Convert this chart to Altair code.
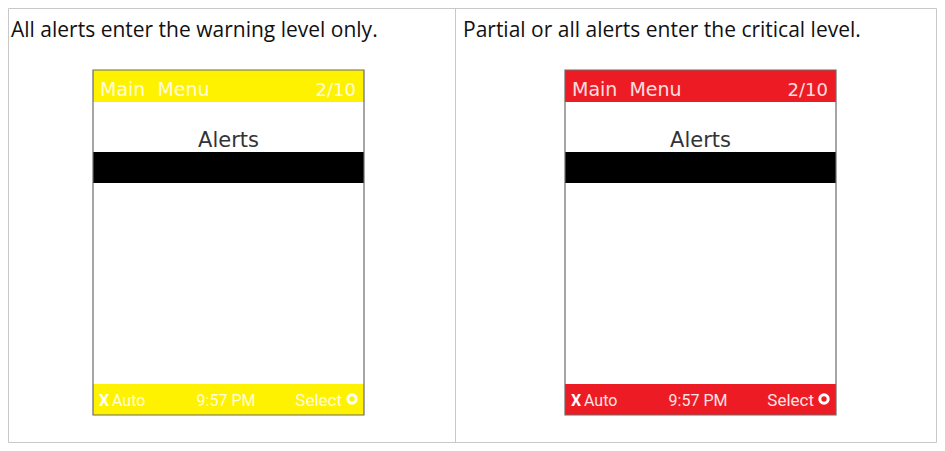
import altair as alt
import pandas as pd

# ---- content ----
panel_titles = ["All alerts enter the warning level only.",
                "Partial or all alerts enter the critical level."]
bar_colors = ["#FFF200", "#ED1C24"]
header_left = ["Main\u00a0\u00a0Menu", "Main\u00a0\u00a0Menu"]
header_right = ["2/10", "2/10"]
menu_items = ["Alerts", "Alerts"]
footer_x = ["X", "X"]
footer_left = ["Auto", "Auto"]
footer_mid = ["9:57 PM", "9:57 PM"]
footer_right = ["Select", "Select"]

# ---- layout (page pixel coordinates) ----
W, H = 929, 435
ORIGIN = 8
panel_left = [3, 455]
screen_left = [93, 565]
SCREEN_W = 271
SCREEN_TOP, SCREEN_BOTTOM = 70, 415
HEADER_BOTTOM = 102
SEL_TOP, SEL_BOTTOM = 152, 183
FOOTER_TOP = 384

xs = alt.Scale(domain=[ORIGIN, ORIGIN + W], nice=False, zero=False)
ys = alt.Scale(domain=[ORIGIN, ORIGIN + H], nice=False, zero=False, reverse=True)

rect_rows = []
for i, x0 in enumerate(screen_left):
    rect_rows.append(dict(x=x0, x2=x0 + SCREEN_W, y=SCREEN_TOP, y2=SCREEN_BOTTOM, fill="#FFFFFF"))
    rect_rows.append(dict(x=x0, x2=x0 + SCREEN_W, y=SCREEN_TOP, y2=HEADER_BOTTOM, fill=bar_colors[i]))
    rect_rows.append(dict(x=x0, x2=x0 + SCREEN_W, y=SEL_TOP, y2=SEL_BOTTOM, fill="#000000"))
    rect_rows.append(dict(x=x0, x2=x0 + SCREEN_W, y=FOOTER_TOP, y2=SCREEN_BOTTOM, fill=bar_colors[i]))
rects = pd.DataFrame(rect_rows)

X = lambda f="x": alt.X(f"{f}:Q", scale=xs, axis=None)
Y = lambda f="y": alt.Y(f"{f}:Q", scale=ys, axis=None)

fill_layer = alt.Chart(rects).mark_rect().encode(
    x=X(), x2="x2:Q", y=Y(), y2="y2:Q",
    fill=alt.Color("fill:N", scale=None),
)

outline = pd.DataFrame(dict(x=screen_left, x2=[s + SCREEN_W for s in screen_left],
                            y=[SCREEN_TOP] * 2, y2=[SCREEN_BOTTOM] * 2))
outline_layer = alt.Chart(outline).mark_rect(
    fillOpacity=0, stroke="#6a6a6a", strokeWidth=1.2
).encode(x=X(), x2="x2:Q", y=Y(), y2="y2:Q")

frame = pd.DataFrame(dict(x=[ORIGIN + 0.5], x2=[ORIGIN + W - 0.5],
                          y=[ORIGIN + 0.5], y2=[ORIGIN + H - 0.5]))
frame_layer = alt.Chart(frame).mark_rect(
    fillOpacity=0, stroke="#c8c8c8", strokeWidth=1
).encode(x=X(), x2="x2:Q", y=Y(), y2="y2:Q")

divider = pd.DataFrame(dict(x=[455.5], y=[ORIGIN], y2=[ORIGIN + H]))
divider_layer = alt.Chart(divider).mark_rule(color="#c8c8c8", strokeWidth=1).encode(
    x=X(), y=Y(), y2="y2:Q")


def text_layer(texts, xpos, ypos, **props):
    df = pd.DataFrame(dict(t=texts, x=xpos, y=ypos))
    return alt.Chart(df).mark_text(baseline="alphabetic", **props).encode(
        x=X(), y=Y(), text="t:N")


titles = text_layer(panel_titles, [p + 8 for p in panel_left], [37] * 2,
                    align="left", font="Open Sans", fontSize=21, color="#111111")
hdr_l = text_layer(header_left, [s + 7 for s in screen_left], [96] * 2,
                   align="left", font="DejaVu Sans", fontSize=19, color="#FFFFFF", opacity=0.85)
hdr_r = text_layer(header_right, [s + 263 for s in screen_left], [96] * 2,
                   align="right", font="DejaVu Sans", fontSize=18, color="#FFFFFF", opacity=0.85)
item = text_layer(menu_items, [s + 135.5 for s in screen_left], [147] * 2,
                  align="center", font="DejaVu Sans", fontSize=21, color="#333333")
ft_x = text_layer(footer_x, [s + 6 for s in screen_left], [406] * 2,
                  align="left", font="Roboto", fontSize=16, fontWeight="bold", color="#FFFFFF")
ft_l = text_layer(footer_left, [s + 19 for s in screen_left], [406] * 2,
                  align="left", font="Roboto", fontSize=16, color="#FFFFFF", opacity=0.88)
ft_m = text_layer(footer_mid, [s + 133 for s in screen_left], [406] * 2,
                  align="center", font="Roboto", fontSize=16, color="#FFFFFF", opacity=0.88)
ft_r = text_layer(footer_right, [s + 249 for s in screen_left], [406] * 2,
                  align="right", font="Roboto", fontSize=17, color="#FFFFFF", opacity=0.88)

ring = pd.DataFrame(dict(x=[s + 259 for s in screen_left], y=[399] * 2))
ring_layer = alt.Chart(ring).mark_point(
    shape="circle", filled=False, stroke="#FFFFFF", strokeWidth=3, size=70, opacity=1
).encode(x=X(), y=Y())

chart = alt.layer(
    frame_layer, divider_layer, fill_layer, outline_layer, titles, hdr_l, hdr_r, item,
    ft_x, ft_l, ft_m, ft_r, ring_layer
).properties(
    width=W, height=H, padding=0,
    autosize=alt.AutoSizeParams(type="none"),
    background="#FFFFFF",
).configure_view(stroke=None)

chart.save("out.html", embed_options={"renderer": "svg", "actions": False})
